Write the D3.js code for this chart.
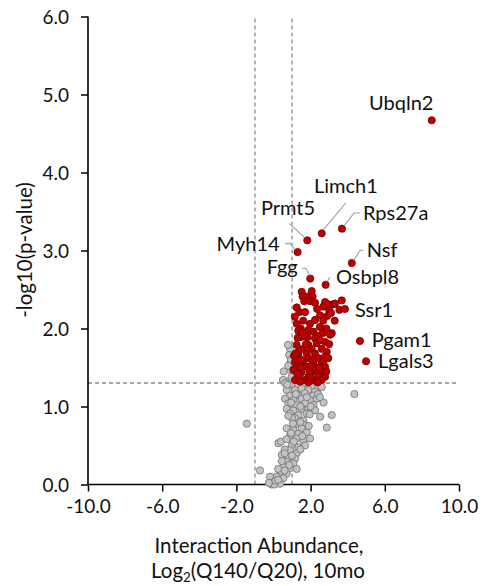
<!DOCTYPE html>
<html><head><meta charset="utf-8">
<script src="https://cdn.jsdelivr.net/npm/d3@7"></script>
<style>body{margin:0;background:#fff}svg{display:block;font-family:Lato,"Open Sans",sans-serif}</style>
</head><body><svg id="c" width="493" height="586"></svg>
<script>
// ---------- data ----------
const xTicks = [-10, -6, -2, 2, 6, 10];
const yTicks = [0, 1, 2, 3, 4, 5, 6];
const xCutoffs = [-1, 1];
const yCutoff = 1.301;

const labelNames = ["Ubqln2","Limch1","Rps27a","Prmt5","Myh14","Nsf","Fgg","Osbpl8","Ssr1","Pgam1","Lgals3"];
const labelX = [8.53, 2.60, 3.69, 1.82, 1.30, 4.22, 1.98, 2.81, 3.85, 4.66, 4.99];
const labelY = [4.67, 3.22, 3.28, 3.13, 2.98, 2.84, 2.64, 2.56, 2.25, 1.84, 1.58];

const redX = [1.52,2.06,1.57,1.82,2.11,1.66,1.97,2.24,2.78,2.95,3.22,3.68,2.68,1.25,1.39,1.70,3.01,2.51,3.55,2.90,2.24,2.68,1.25,1.97,1.47,1.88,2.15,2.65,3.14,
  1.34,2.33,1.48,1.84,2.24,1.25,1.88,2.33,2.78,1.61,2.06,2.60,1.34,1.79,2.24,2.87,1.34,1.88,2.42,2.78,1.16,1.61,2.15,2.60,1.25,1.79,2.33,2.78,1.07,1.52,2.06,2.60,1.34,1.88,2.42,2.78,1.16,1.61,2.15,2.60,1.43,1.88,2.38,
  3.32,3.05,3.00,1.50,2.00,2.50,1.70,2.30,1.10,
  1.15,1.30,1.20,1.45,1.95,2.45,2.70,2.95,2.50,2.85,3.30,1.60,2.35,1.75,2.10,1.28,2.00,2.85,3.10,1.55];
const redY = [2.47,2.48,2.41,2.41,2.41,2.35,2.35,2.33,2.34,2.31,2.31,2.36,2.28,2.27,2.21,2.21,2.23,2.17,2.24,2.16,2.11,2.10,2.06,2.06,2.00,1.98,1.96,1.94,1.94,
  1.97,1.91,1.89,1.89,1.87,1.79,1.79,1.81,1.83,1.74,1.74,1.74,1.70,1.68,1.68,1.70,1.64,1.62,1.62,1.64,1.57,1.55,1.57,1.55,1.51,1.51,1.50,1.51,1.47,1.44,1.44,1.44,1.40,1.38,1.39,1.38,1.34,1.34,1.34,1.34,1.32,1.31,1.31,
  2.32,1.92,1.80,1.60,1.52,2.02,1.90,1.47,1.65,
  2.15,1.88,1.68,1.50,1.45,1.50,1.58,1.62,1.85,2.00,2.10,2.10,2.25,1.80,1.60,1.42,1.37,1.45,2.20,1.95];

const grayX = [0.89,0.84,0.89,0.98,0.62,0.78,0.94,0.89,0.51,1.07,1.52,2.06,2.42,
  0.62,0.98,1.34,1.70,2.60,0.71,1.16,1.52,1.88,2.24,0.89,1.34,1.70,2.15,0.62,1.07,1.52,1.97,2.33,0.80,1.25,1.70,2.15,0.71,1.07,1.52,1.88,2.24,0.89,1.34,1.79,1.16,1.61,2.51,3.14,1.25,1.70,2.87,0.71,1.07,1.52,1.79,1.34,
  0.89,1.25,1.61,1.97,0.98,1.34,1.70,0.89,1.25,0.80,1.16,0.71,1.07,0.53,0.89,0.35,0.71,0.17,0.53,-0.19,-0.01,0.35,-0.10,0.05,
  -1.44,-0.73,1.25,0.26,0.40,4.36,0.60,0.45,1.00,
  0.75,1.20,1.80,2.40,0.95,1.45,2.00,0.80,1.95,1.05,1.45,1.90,0.95,1.55,0.70,1.10,1.45,0.60,1.00,0.45,0.85,0.25,0.60,0.10,0.25,-0.25,2.70,2.50,0.55,0.80];
const grayY = [1.74,1.66,1.55,1.38,1.33,1.79,1.60,1.47,1.34,1.27,1.25,1.25,1.25,
  1.30,1.29,1.28,1.29,1.25,1.21,1.21,1.23,1.21,1.19,1.14,1.14,1.17,1.14,1.10,1.08,1.10,1.08,1.10,1.04,1.02,1.04,1.02,0.97,0.95,0.97,0.97,0.95,0.91,0.89,0.91,0.85,0.82,0.87,0.89,0.78,0.76,0.73,0.72,0.70,0.72,0.67,0.65,
  0.63,0.59,0.57,0.59,0.50,0.48,0.50,0.44,0.40,0.35,0.33,0.29,0.27,0.23,0.21,0.16,0.14,0.10,0.08,0.10,0.03,0.01,0.00,0.00,
  0.78,0.18,0.20,0.53,0.55,1.16,0.45,0.38,0.85,
  1.28,1.16,1.12,1.16,1.05,1.00,1.00,0.88,0.90,0.78,0.80,0.75,0.66,0.62,0.58,0.55,0.45,0.40,0.37,0.30,0.25,0.20,0.18,0.05,0.06,0.02,1.05,1.12,1.45,1.52];

// ---------- layout (pixels) ----------
const plot = {left: 88, right: 459, top: 16.5, bottom: 484.5};
const font = {tick: 19, label: 20, title: 20.5};
const radius = 3.6;
// text anchor offsets relative to the point (px) and leader polylines
const labelLayout = {
  Ubqln2: {dx:-62.7, dy:-10},
  Limch1: {dx:-7.7, dy:-40, lead:[[1.3,-3.3],[24.3,-30.6]]},
  Rps27a: {dx:21, dy:-9, lead:[[2,-2.5],[12,-15.6],[18,-15.6]]},
  Prmt5:  {dx:-46.3, dy:-25, lead:[[-18,-17],[-2.5,-2.5]]},
  Myh14:  {dx:-81, dy:-0.7, lead:[[-12.7,-8.4],[-7,-8.4],[-2.7,-2]]},
  Nsf:    {dx:15, dy:-5.7, lead:[[2,-2.5],[8.3,-12.7],[11.6,-12.7]]},
  Fgg:    {dx:-43.6, dy:-4.4, lead:[[-8.6,-10.4],[-4.3,-10.4],[-0.5,-3]]},
  Osbpl8: {dx:10.3, dy:-1, lead:[[1.5,-3.5],[4.3,-7.4]]},
  Ssr1:   {dx:10, dy:7.7},
  Pgam1:  {dx:11.7, dy:6.5},
  Lgals3: {dx:12, dy:7}
};

const svg = d3.select("#c");
const x = d3.scaleLinear().domain([-10, 10]).range([plot.left, plot.right]);
const y = d3.scaleLinear().domain([0, 6]).range([plot.bottom, plot.top]);

// threshold lines
const dashCol = "#8c8c8c";
svg.append("g").selectAll("line").data(xCutoffs).join("line")
  .attr("x1", d => x(d)).attr("x2", d => x(d))
  .attr("y1", y(0)).attr("y2", y(6))
  .attr("stroke", dashCol).attr("stroke-width", 1.3).attr("stroke-dasharray", "4,3");
svg.append("line")
  .attr("x1", x(-10)).attr("x2", x(10)).attr("y1", y(yCutoff)).attr("y2", y(yCutoff))
  .attr("stroke", dashCol).attr("stroke-width", 1.3).attr("stroke-dasharray", "4,3");

// axes
const fmt = d => d.toFixed(1);
const xAxis = d3.axisBottom(x).tickValues(xTicks).tickSize(7).tickFormat(fmt);
const yAxis = d3.axisLeft(y).tickValues(yTicks).tickSize(7).tickFormat(fmt);
const gx = svg.append("g").attr("transform", `translate(0,${y(0)})`).call(xAxis);
const gy = svg.append("g").attr("transform", `translate(${x(-10)},0)`).call(yAxis);
[gx, gy].forEach(g => {
  g.select(".domain").attr("stroke", "#000").attr("stroke-width", 1.6);
  g.selectAll(".tick line").attr("stroke", "#000").attr("stroke-width", 1.5);
  g.selectAll(".tick text").attr("fill", "#111").style("font-size", font.tick + "px").style("font-family", "Lato");
});
gx.select(".domain").attr("d", `M${x(-10)},0H${x(10)}`);
gy.select(".domain").attr("d", `M0,${y(6)}V${y(0)}`);
gx.selectAll(".tick text").attr("dy", null).attr("y", 28);
gy.selectAll(".tick text").attr("x", -19).attr("dy", "0.36em");

// points
const grayData = grayX.map((v, i) => ({x: v, y: grayY[i]}));
const redData = redX.map((v, i) => ({x: v, y: redY[i]}));
const labData = labelNames.map((n, i) => ({name: n, x: labelX[i], y: labelY[i]}));

svg.append("g").selectAll("circle").data(grayData).join("circle")
  .attr("cx", d => x(d.x)).attr("cy", d => y(d.y)).attr("r", radius)
  .attr("fill", "#c3c3c3").attr("stroke", "#6e6e6e").attr("stroke-width", 0.8);
svg.append("g").selectAll("circle").data(redData.concat(labData)).join("circle")
  .attr("cx", d => x(d.x)).attr("cy", d => y(d.y)).attr("r", radius)
  .attr("fill", "#c00000").attr("stroke", "#6b0000").attr("stroke-width", 0.8);

// leaders and labels
const ann = svg.append("g");
labData.forEach(d => {
  const L = labelLayout[d.name];
  const px = x(d.x), py = y(d.y);
  if (L.lead) {
    ann.append("path")
      .attr("d", d3.line()(L.lead.map(p => [px + p[0], py + p[1]])))
      .attr("fill", "none").attr("stroke", "#a0a0a0").attr("stroke-width", 1.1);
  }
  ann.append("text").attr("x", px + L.dx).attr("y", py + L.dy)
    .style("font-size", font.label + "px").attr("fill", "#111").text(d.name);
});

// axis titles
svg.append("text").attr("x", 259).attr("y", 553).attr("text-anchor", "middle")
  .style("font-size", font.title + "px").attr("fill", "#111").text("Interaction Abundance,");
const t2 = svg.append("text").attr("x", 258).attr("y", 578).attr("text-anchor", "middle")
  .style("font-size", font.title + "px").attr("fill", "#111");
t2.append("tspan").text("Log");
t2.append("tspan").attr("dy", 4).style("font-size", (font.title * 0.65) + "px").text("2");
t2.append("tspan").attr("dy", -4).text("(Q140/Q20), 10mo");
svg.append("text").attr("transform", "translate(32,250) rotate(-90)").attr("text-anchor", "middle")
  .style("font-size", font.title + "px").attr("fill", "#111").text("-log10(p-value)");
</script></body></html>
